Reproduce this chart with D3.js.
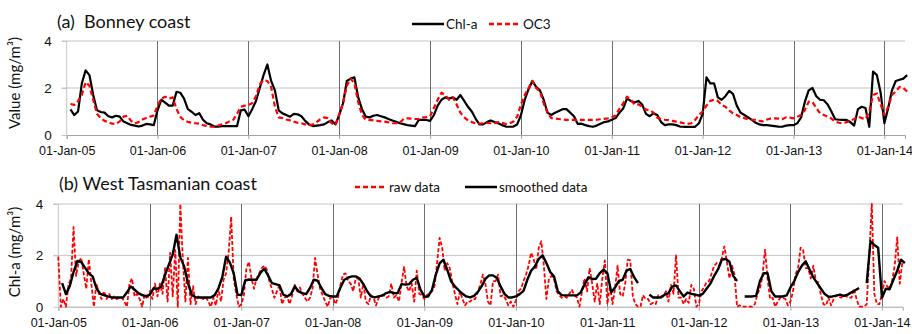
<!DOCTYPE html>
<html>
<head>
<meta charset="utf-8">
<script src="https://cdn.jsdelivr.net/npm/d3@7"></script>
<style>
  body { margin: 0; background: #fff; }
  svg { display: block; font-family: Lato, "Open Sans", sans-serif; }
</style>
</head>
<body>
<div id="chart"></div>
<script>
// half-monthly series, first value is half a month after 01-Jan-05
let chlA = [1.09, 0.85, 1.0, 2.2, 2.75, 2.55, 1.7, 1.05, 0.98, 0.95,
  0.8, 0.75, 0.82, 0.78, 0.57, 0.5, 0.43, 0.4, 0.36, 0.4,
  0.47, 0.45, 0.42, 1.05, 1.5, 1.38, 1.25, 1.25, 1.84, 1.8,
  1.55, 1.1, 0.99, 0.85, 0.93, 0.65, 0.5, 0.45, 0.36, 0.36,
  0.38, 0.38, 0.38, 0.38, 0.38, 1.05, 1.08, 0.8, 1.1, 1.45,
  2.0, 2.55, 3.0, 2.3, 1.9, 1.05, 0.92, 0.85, 0.78, 0.9,
  0.88, 0.8, 0.6, 0.45, 0.38, 0.4, 0.42, 0.45, 0.55, 0.62,
  0.45, 0.85, 1.35, 2.3, 2.4, 2.45, 1.6, 1.1, 0.78, 0.75,
  0.82, 0.85, 0.8, 0.75, 0.68, 0.62, 0.56, 0.5, 0.46, 0.42,
  0.4, 0.38, 0.64, 0.65, 0.64, 0.6, 0.85, 1.25, 1.5, 1.6,
  1.55, 1.6, 1.5, 1.7, 1.45, 1.2, 1.0, 0.7, 0.45, 0.45,
  0.55, 0.62, 0.55, 0.5, 0.42, 0.36, 0.35, 0.36, 0.45, 0.85,
  1.5, 1.95, 2.3, 2.05, 1.9, 1.5, 0.95, 0.85, 0.95, 1.02,
  1.1, 1.1, 0.95, 0.8, 0.47, 0.48, 0.42, 0.38, 0.35, 0.4,
  0.48, 0.55, 0.58, 0.65, 0.72, 0.95, 1.13, 1.55, 1.45, 1.38,
  1.45, 1.3, 0.9, 0.8, 0.92, 0.85, 0.55, 0.42, 0.45, 0.45,
  0.42, 0.36, 0.35, 0.35, 0.35, 0.35, 0.5, 0.9, 2.45, 2.2,
  2.2, 1.6, 1.5, 1.65, 1.88, 1.75, 1.25, 0.95, 0.85, 0.75,
  0.64, 0.52, 0.45, 0.42, 0.42, 0.4, 0.38, 0.36, 0.35, 0.4,
  0.42, 0.42, 0.5, 0.75, 1.42, 1.9, 2.0, 1.65, 1.5, 1.48,
  1.3, 1.0, 0.67, 0.65, 0.64, 0.64, 0.55, 0.4, 1.1, 1.2,
  1.15, 0.35, 2.7, 2.55, 1.8, 0.5, 1.15, 1.9, 2.3, 2.35,
  2.4, 2.55];

let oc3 = [1.32, 1.28, 1.45, 1.7, 2.25, 2.1, 1.5, 0.9, 0.72, 0.6,
  0.55, 0.48, 0.47, 0.58, 0.78, 0.82, 0.6, 0.5, 0.55, 0.66,
  0.72, 0.78, 0.83, 1.25, 1.55, 1.63, 1.55, 1.6, 1.1, 0.78,
  0.62, 0.56, 0.52, 0.5, 0.48, 0.42, 0.38, 0.36, 0.35, 0.4,
  0.45, 0.5, 0.58, 0.65, 0.9, 1.2, 1.25, 1.28, 1.35, 1.65,
  2.15, 2.34, 2.3, 2.05, 1.2, 0.75, 0.72, 0.66, 0.62, 0.57,
  0.52, 0.5, 0.45, 0.42, 0.45, 0.55, 0.67, 0.75, 0.72, 0.5,
  0.42, 0.9, 1.35, 2.1, 2.4, 2.2, 1.4, 0.85, 0.66, 0.64,
  0.62, 0.6, 0.58, 0.57, 0.54, 0.5, 0.5, 0.52, 0.68, 0.71,
  0.7, 0.68, 0.68, 0.74, 0.76, 0.8, 1.15, 1.5, 1.8, 1.7,
  1.5, 1.6, 1.3, 0.95, 0.75, 0.62, 0.55, 0.5, 0.48, 0.5,
  0.52, 0.5, 0.5, 0.55, 0.52, 0.47, 0.5, 0.57, 0.78, 1.3,
  1.7, 2.0, 2.3, 2.0, 1.85, 1.35, 0.95, 0.72, 0.7, 0.68,
  0.66, 0.64, 0.64, 0.64, 0.64, 0.64, 0.64, 0.64, 0.64, 0.65,
  0.67, 0.69, 0.71, 0.76, 0.83, 1.12, 1.35, 1.63, 1.5, 1.3,
  1.3, 1.22, 1.08, 1.06, 0.95, 0.74, 0.68, 0.65, 0.63, 0.6,
  0.57, 0.54, 0.5, 0.47, 0.5, 0.64, 0.85, 1.0, 1.25, 1.45,
  1.5, 1.45, 1.28, 1.2, 1.05, 0.92, 0.85, 0.76, 0.72, 0.67,
  0.65, 0.64, 0.6, 0.58, 0.66, 0.7, 0.71, 0.7, 0.67, 0.75,
  0.74, 0.71, 0.78, 0.85, 1.06, 1.42, 1.4, 1.15, 0.92, 0.85,
  0.78, 0.7, 0.57, 0.52, 0.5, 0.55, 0.6, 0.68, 0.78, 0.72,
  0.68, 1.0, 1.7, 1.77, 1.3, 0.85, 1.2, 1.7, 1.85, 2.05,
  2.0, 1.85];

// West Tasmanian coast, half-monthly, null = gap in the smoothed line
let smoothed = [0.92, 0.49, 0.8, 1.35, 1.78, 1.74, 1.52, 1.3, 1.18, 0.72,
  0.5, 0.45, 0.4, 0.36, 0.36, 0.36, 0.36, 0.56, 0.79, 0.66,
  0.53, 0.45, 0.4, 0.47, 0.72, 0.7, 0.79, 1.25, 1.64, 2.03,
  2.8, 1.92, 1.57, 0.92, 0.47, 0.37, 0.36, 0.36, 0.36, 0.36,
  0.45, 0.72, 1.15, 1.95, 1.72, 1.3, 0.47, 0.45, 1.02, 1.06,
  1.05, 1.05, 1.32, 1.48, 1.22, 0.92, 0.88, 0.83, 0.47, 0.4,
  0.49, 0.79, 0.6, 0.53, 0.49, 0.73, 1.05, 1.01, 0.73, 0.49,
  0.42, 0.4, 0.4, 0.75, 1.05, 1.13, 1.18, 1.18, 1.1, 0.88,
  0.6, 0.4, 0.36, 0.4, 0.44, 0.53, 0.58, 0.53, 0.53, 0.88,
  0.86, 0.88, 1.05, 1.12, 0.66, 0.39, 0.4, 0.66, 1.25, 1.69,
  1.83, 1.44, 0.99, 0.79, 0.64, 0.5, 0.4, 0.36, 0.42, 0.57,
  0.79, 1.08, 1.22, 1.22, 1.12, 0.79, 0.5, 0.36, 0.36, 0.4,
  0.49, 0.62, 1.05, 1.4, 1.57, 1.86, 2.0, 1.7, 1.35, 1.18,
  0.6, 0.45, 0.44, 0.44, 0.44, 0.44, 0.56, 0.86, 1.14, 1.08,
  1.09, 1.31, 1.44, 1.3, 0.56, 0.75, 1.0, 1.05, 1.4, 1.47,
  1.15, 0.92, null, null, 0.47, 0.36, 0.36, 0.36, 0.47, 0.53,
  0.78, 0.83, 0.6, 0.4, 0.55, 0.5, 0.47, 0.43, 0.5, 0.7,
  0.9, 1.2, 1.45, 1.83, 1.86, 1.75, 1.2, 1.0, null, 0.4,
  0.4, 0.4, 0.42, 1.0, 1.3, 1.3, 0.6, 0.4, 0.4, 0.4,
  0.44, 0.75, 1.0, 1.35, 1.6, 1.77, 1.45, 1.14, 0.92, 0.7,
  0.49, 0.39, 0.4, 0.43, 0.47, 0.42, 0.47, 0.56, 0.64, 0.73,
  null, 0.92, 2.55, 2.4, 2.3, 0.35, 0.7, 0.68, 1.05, 1.4,
  1.83, 1.7];

// raw data, 36 values a year from 01-Jan-05
let raw = [1.95, 0, 0.3, 0, 0.85, 1.1, 3.1, 1.2, 1.75, 1.9,
  1.3, 0.7, 1.85, 0.9, 0, 0.9, 0.5, 0.3, 0.6, 0.3,
  0.5, 0.3, 0.4, 0.3, 0.35, 0.35, 0.2, 0, 0.9, 1.1,
  0.4, 0.5, 0.3, 0, 0.5, 0.3,
  0.6, 0.3, 0.9, 0.4, 0.9, 0.5, 1.5, 0.2, 2.1, 0.4,
  2.2, 0, 4.0, 1.8, 0.2, 1.9, 0.1, 0.8, 0.1, 0.4,
  0.35, 0.3, 0.38, 0.2, 0, 0.35, 0.05, 0.7, 0.2, 1.05,
  1.3, 2.1, 3.5, 1.1, 0.5, 0,
  0.1, 0.45, 1.5, 1.75, 1.1, 0.7, 1.1, 1.3, 1.5, 1.6,
  1.45, 1.0, 0.7, 0.35, 0.6, 0.85, 0.1, 0.35, 0.4, 0.1,
  0.45, 0.85, 0.6, 0.75, 0.5, 0.35, 0.2, 0.35, 0.7, 1.9,
  1.25, 0.7, 0.45, 0.2, 0, 0.35,
  0.35, 0.1, 0.35, 0.85, 1.25, 1.3, 1.0, 0.9, 0.6, 1.1,
  1.1, 0.35, 0.9, 0.2, 0.1, 0.45, 0.35, 0.05, 0.35, 0.4,
  0.45, 0.35, 0.4, 0.9, 0.35, 0.45, 0.2, 0.92, 1.55, 0.8,
  0.6, 0.9, 0.2, 1.4, 0.5, 0.45,
  0.3, 0.45, 0.5, 0.6, 0.8, 1.7, 2.68, 2.3, 1.4, 1.7,
  1.5, 0.95, 0.5, 0.1, 0.6, 0.3, 0.05, 0.2, 0.2, 0.3,
  0.3, 0.6, 0.85, 1.25, 0.9, 0.2, 0.05, 1.0, 1.0, 1.25,
  0.4, 0.45, 0.3, 0.05, 0.2, 0,
  0.25, 0.6, 0.7, 1.0, 1.25, 1.6, 2.1, 1.85, 1.45, 2.3,
  2.55, 1.6, 0.3, 1.1, 1.2, 1.1, 0.6, 0.45, 0.35, 0.4,
  0.35, 0.5, 0.66, 0.45, 0.35, 0, 0.6, 1.1, 0.6, 1.5,
  0.9, 0.2, 0.9, 0.1, 1.1, 1.8,
  0.1, 0.85, 0.1, 0.7, 1.6, 0.5, 0.4, 0.9, 1.83, 1.8,
  0.4, 0.1, 0, 0, 0.45, 0.3, 0.3, 0.1, 0.15, 0.1,
  0.45, 0.4, 0.4, 0.6, 0.2, 0.85, 0.5, 2.0, 0.35, 0.35,
  0.1, 0.3, 0.15, 0.85, 0.7, 0,
  0.1, 0.6, 0.75, 0.95, 1.0, 1.3, 1.6, 1.7, 1.6, 1.9,
  2.35, 1.75, 1.1, 1.6, 1.25, 0, 0.05, 0, 0, 0,
  0, 0, 0.1, 0.5, 0.7, 1.2, 2.22, 1.1, 0.3, 0.35,
  0, 0.2, 0.35, 0.35, 0.3, 0.05,
  0.2, 0.6, 1.25, 1.5, 2.3, 2.2, 1.5, 1.5, 1.1, 1.6,
  1.0, 0.95, 0.45, 0.1, 0.05, 0.35, 0.05, 0.3, 0.45, 0.4,
  0.35, 0.45, 0.4, 0.35, 0.35, 0.7, 0.3, 0, 0, 0,
  0.1, 2.0, 4.0, 0.5, 0.1, 0.1,
  0.5, 1.0, 0.8, 0.7, 1.0, 1.6, 2.7, 0.9, 1.7];

let yTicks = [0, 2, 4];

let width = 912;
let height = 334;
let day = 86400000;
let t0 = Date.UTC(2005, 0, 1);
let tEnd = Date.UTC(2014, 2, 25);

let halfMonth = d => d.map((v, i) => ({ date: new Date(t0 + (i + 1) * 365.25 / 24 * day), v: v }));
let thirdMonth = d => d.map((v, i) => ({ date: new Date(t0 + i * 365.25 / 36 * day), v: v }));

let svg = d3.select('#chart')
    .append('svg')
    .attr('width', width)
    .attr('height', height);

function panel(opt) {
    let xScale = d3.scaleUtc()
        .domain([new Date(t0), new Date(tEnd)])
        .range([opt.left, opt.right]);
    let yScale = d3.scaleLinear()
        .domain([0, 4])
        .range([opt.bottom, opt.top]);

    let g = svg.append('g');
    let years = d3.utcYear.range(new Date(t0), new Date(tEnd));

    // horizontal grid
    g.selectAll('.hgrid')
        .data(yTicks.filter(d => d > 0))
        .enter()
        .append('line')
        .attr('x1', opt.left - 5)
        .attr('x2', opt.right)
        .attr('y1', d => yScale(d))
        .attr('y2', d => yScale(d))
        .attr('stroke', '#c4c4c4')
        .attr('stroke-width', 1);

    // vertical year lines
    g.selectAll('.vgrid')
        .data(years.slice(1))
        .enter()
        .append('line')
        .attr('x1', d => Math.round(xScale(d)) + 0.5)
        .attr('x2', d => Math.round(xScale(d)) + 0.5)
        .attr('y1', opt.top)
        .attr('y2', opt.bottom)
        .attr('stroke', '#6e6e6e')
        .attr('stroke-width', 1);

    let xAxis = d3.axisBottom(xScale)
        .tickValues(years)
        .tickFormat(d3.utcFormat('%d-%b-%y'))
        .tickSize(4)
        .tickPadding(7);
    let gx = g.append('g')
        .attr('transform', `translate(0, ${opt.bottom})`)
        .call(xAxis);
    gx.select('.domain').attr('stroke', '#a6a6a6');
    gx.selectAll('line').attr('stroke', '#a6a6a6');
    gx.selectAll('text')
        .attr('fill', '#111')
        .style('font-size', '12.5px');

    let yAxis = d3.axisLeft(yScale)
        .tickValues(yTicks)
        .tickFormat(d3.format('d'))
        .tickSize(5)
        .tickPadding(10);
    let gy = g.append('g')
        .attr('transform', `translate(${opt.left}, 0)`)
        .call(yAxis);
    gy.select('.domain').attr('stroke', '#c4c4c4').attr('d', `M0,${opt.top}V${opt.bottom}`);
    gy.selectAll('line').attr('stroke', '#c4c4c4');
    gy.selectAll('text')
        .attr('fill', '#111')
        .style('font-size', '13.5px');

    g.append('text')
        .attr('transform', `translate(20, ${opt.yLabelY}) rotate(-90)`)
        .attr('text-anchor', 'middle')
        .style('font-size', '15px')
        .attr('fill', '#111')
        .text(opt.yLabel);

    g.append('text')
        .attr('x', opt.titleX)
        .attr('y', opt.titleY)
        .style('font-size', '18px')
        .attr('fill', '#111')
        .attr('xml:space', 'preserve')
        .text(opt.title);

    let line = d3.line()
        .defined(d => d.v != null)
        .x(d => xScale(d.date))
        .y(d => yScale(d.v));

    opt.series.forEach(s => {
        g.append('path')
            .datum(s.data)
            .attr('fill', 'none')
            .attr('stroke', s.color)
            .attr('stroke-width', s.width)
            .attr('stroke-dasharray', s.dash)
            .attr('stroke-linejoin', 'round')
            .attr('d', line);
    });

    // legend
    opt.legend.forEach(l => {
        g.append('line')
            .attr('x1', l.x)
            .attr('x2', l.x + 32)
            .attr('y1', opt.legendY)
            .attr('y2', opt.legendY)
            .attr('stroke', l.color)
            .attr('stroke-width', l.width)
            .attr('stroke-dasharray', l.dash);
        g.append('text')
            .attr('x', l.x + 34)
            .attr('y', opt.legendY + 4.5)
            .style('font-size', '13.5px')
            .attr('fill', '#111')
            .text(l.label);
    });
}

panel({
    left: 66.7, right: 905, top: 41, bottom: 135,
    title: '(a)  Bonney coast', titleX: 57, titleY: 28,
    yLabel: 'Value (mg/m³)', yLabelY: 83,
    legendY: 24,
    series: [
        { data: halfMonth(chlA), color: '#000', width: 2.2, dash: null },
        { data: halfMonth(oc3), color: '#ff0000', width: 2.2, dash: '5,3' }
    ],
    legend: [
        { x: 412, label: 'Chl-a', color: '#000', width: 2.5, dash: null },
        { x: 489, label: 'OC3', color: '#ff0000', width: 2.5, dash: '5,3' }
    ]
});

panel({
    left: 58.3, right: 902.7, top: 204, bottom: 306.7,
    title: '(b) West Tasmanian coast', titleX: 59, titleY: 190,
    yLabel: 'Chl-a (mg/m³)', yLabelY: 252,
    legendY: 187,
    series: [
        { data: thirdMonth(raw), color: '#ff0000', width: 1.8, dash: '4,2' },
        { data: halfMonth(smoothed), color: '#000', width: 2.4, dash: null }
    ],
    legend: [
        { x: 355, label: 'raw data', color: '#ff0000', width: 2.5, dash: '5,3' },
        { x: 465, label: 'smoothed data', color: '#000', width: 2.5, dash: null }
    ]
});
</script>
</body>
</html>
